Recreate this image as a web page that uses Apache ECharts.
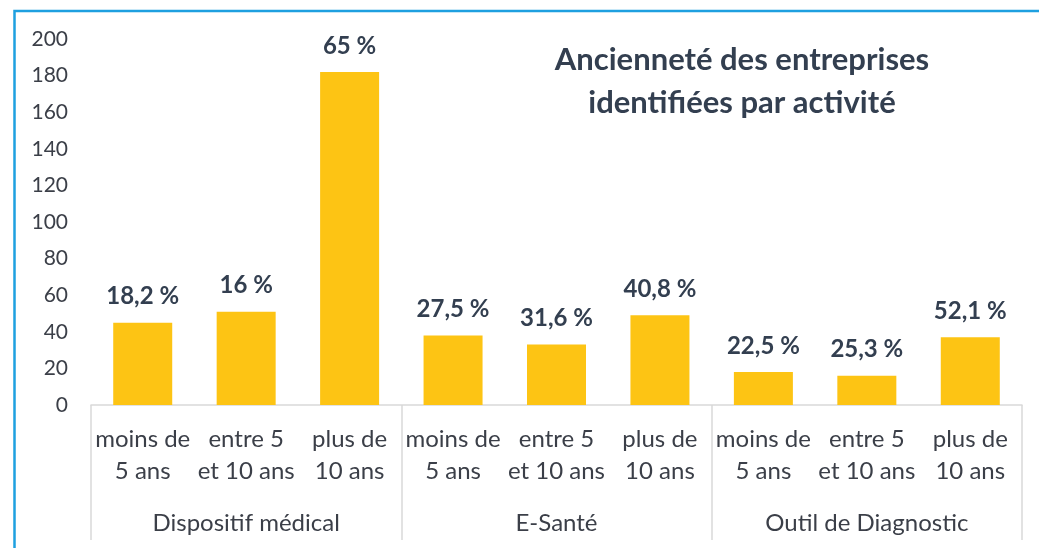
<!DOCTYPE html>
<html>
<head>
<meta charset="utf-8">
<script src="https://cdn.jsdelivr.net/npm/echarts@6/dist/echarts.min.js"></script>
<style>
  html, body { margin: 0; padding: 0; background: #fff; }
  #chart { width: 1039px; height: 548px; }
</style>
</head>
<body>
<div id="chart"></div>
<script>
const ageClasses = ['moins de\n5 ans', 'entre 5\net 10 ans', 'plus de\n10 ans'];
const activities = ['Dispositif médical', 'E-Santé', 'Outil de Diagnostic'];
const counts = [45, 51, 182, 38, 33, 49, 18, 16, 37];
const shares = ['18,2 %', '16 %', '65 %', '27,5 %', '31,6 %', '40,8 %', '22,5 %', '25,3 %', '52,1 %'];
const yTicks = { min: 0, max: 200, interval: 20 };

const font = 'Lato, "Noto Sans", sans-serif';
const textColor = '#3b3f48';

const categories = [];
activities.forEach(() => ageClasses.forEach(a => categories.push(a)));

const chart = echarts.init(document.getElementById('chart'));

chart.setOption({
  animation: false,
  textStyle: { fontFamily: font },
  title: {
    text: 'Ancienneté des entreprises\nidentifiées par activité',
    left: 737,
    top: 33,
    textAlign: 'center',
    textStyle: {
      fontFamily: font,
      fontSize: 31,
      fontWeight: 'bold',
      color: '#333f50',
      lineHeight: 43
    }
  },
  grid: { left: 91, right: 17, top: 39, bottom: 143 },
  graphic: [{
    type: 'rect',
    shape: { x: 14.5, y: 11, width: 1200, height: 700 },
    style: { fill: 'none', stroke: '#1ea0e0', lineWidth: 2.5 },
    z: -1
  }],
  xAxis: [{
    type: 'category',
    data: categories,
    axisLine: { lineStyle: { color: '#d9d9d9', width: 1.5 } },
    axisTick: { show: false },
    axisLabel: {
      interval: 0,
      margin: 18,
      fontSize: 24,
      lineHeight: 32,
      color: textColor,
      fontFamily: font
    }
  }, {
    type: 'category',
    data: activities,
    position: 'bottom',
    axisLine: { show: false },
    axisTick: { show: true, length: 135, lineStyle: { color: '#d9d9d9', width: 1.5 } },
    axisLabel: {
      interval: 0,
      margin: 106,
      fontSize: 24,
      color: textColor,
      fontFamily: font
    }
  }],
  yAxis: {
    type: 'value',
    min: yTicks.min,
    max: yTicks.max,
    interval: yTicks.interval,
    splitLine: { show: false },
    axisLine: { show: false },
    axisTick: { show: false },
    axisLabel: { margin: 23, fontSize: 21, color: textColor, fontFamily: font }
  },
  series: [{
    type: 'bar',
    xAxisIndex: 0,
    data: counts,
    barWidth: 59,
    itemStyle: { color: '#fdc414' },
    label: {
      show: true,
      position: 'top',
      distance: 14,
      formatter: p => shares[p.dataIndex],
      fontFamily: font,
      fontSize: 24,
      fontWeight: 'bold',
      color: '#333f50'
    }
  }]
});
</script>
</body>
</html>
